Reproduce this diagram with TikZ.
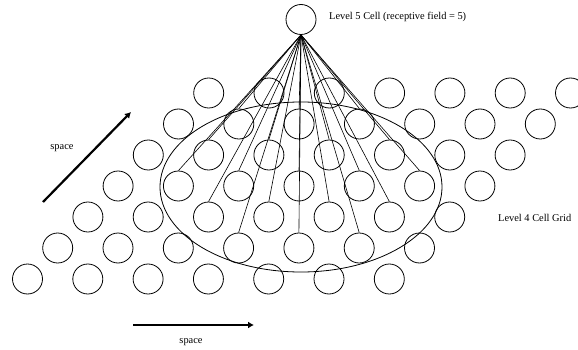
\documentclass[tikz,border=0pt]{standalone}
\usepackage{fontspec}
\setmainfont{Liberation Serif}
\usetikzlibrary{arrows.meta}

\tikzset{
  cell/.style={draw, circle, line width=0.8pt, minimum size=30pt, inner sep=0pt},
  link/.style={line width=0.6pt},
  axis/.style={line width=2.2pt, -{Latex[length=6pt,width=7pt]}},
  lbl/.style={font=\fontsize{10.4}{12}\selectfont, inner sep=1pt}
}

\begin{document}
\begin{tikzpicture}[x=1pt, y=-1pt]
\useasboundingbox (0,0) rectangle (578,350);

% Level 4 cell grid (7 x 7, each row shifted left)
\foreach \j in {0,...,6} {
  \foreach \i in {0,...,6} {
    \node[cell] (c-\i-\j) at ({208.7+60.3*\i-30.2*\j}, {93+31*\j}) {};
  }
}

% Level 5 cell
\node[cell] (top) at (301,19.5) {};
\node[lbl, anchor=west] (toplbl) at (328,17) {Level 5 Cell (receptive field = 5)};

% receptive field around c-3-3
\draw[line width=0.8pt] (301,187) ellipse [x radius=141, y radius=85];
\foreach \j in {1,...,5} {
  \foreach \i in {1,...,5} {
    \pgfmathtruncatemacro{\d}{abs(\i-\j)}
    \ifnum\d<3
      \draw[link] (top.south) -- (c-\i-\j.north);
    \fi
  }
}
\node[lbl, anchor=west] (gridlbl) at (497,218) {Level 4 Cell Grid};

% space axes
\coordinate (d0) at (43,202);
\coordinate (d1) at (131,112);
\draw[axis] (d0) -- (d1);
\node[lbl] (dlbl) at (62,148) {space};

\coordinate (h0) at (133,325);
\coordinate (h1) at (254,325);
\draw[axis] (h0) -- (h1);
\node[lbl] (hlbl) at (191,342) {space};

\end{tikzpicture}
\end{document}
